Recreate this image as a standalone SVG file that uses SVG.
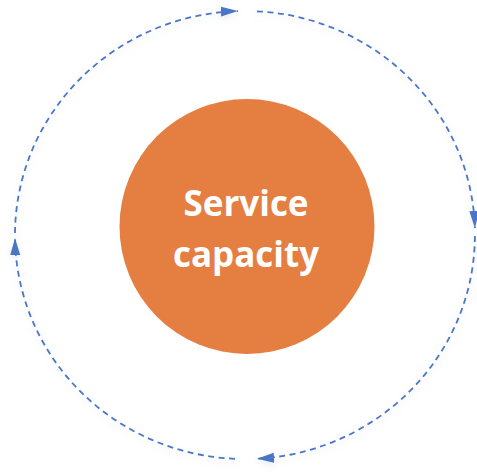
<svg xmlns="http://www.w3.org/2000/svg" width="477" height="473" viewBox="0 0 477 473">
  <defs>
    <style>
      .arc { fill: none; stroke: #4A76C6; stroke-width: 1.8; stroke-dasharray: 6 4.5; marker-end: url(#arrow); filter: url(#glow); }
      .label { font-family: "Open Sans", "Noto Sans", "Liberation Sans", sans-serif; font-weight: bold; font-size: 35px; fill: #FFFFFF; text-anchor: middle; }
    </style>
    <marker id="arrow" markerUnits="userSpaceOnUse" markerWidth="18" markerHeight="11" refX="17" refY="5" orient="auto">
      <path d="M0,0 L17,5 L0,10 z" fill="#4A76C6"/>
    </marker>
    <filter id="glow" x="-10%" y="-10%" width="120%" height="120%">
      <feGaussianBlur in="SourceAlpha" stdDeviation="3"/>
      <feOffset dx="0" dy="3" result="b"/>
      <feFlood flood-color="#7A8DB8" flood-opacity="0.18"/>
      <feComposite in2="b" operator="in"/>
      <feMerge>
        <feMergeNode/>
        <feMergeNode in="SourceGraphic"/>
      </feMerge>
    </filter>
  </defs>
  <g id="connectors">
    <path class="arc" d="M 15 233 A 230 224 0 0 1 238 11.1"/>
    <path class="arc" d="M 257 11.3 A 230 224 0 0 1 474.9 228"/>
    <path class="arc" d="M 474.9 236 A 230 224 0 0 1 257 458.7"/>
    <path class="arc" d="M 235 458.8 A 230 224 0 0 1 15 238"/>
  </g>
  <g id="service-capacity">
    <circle cx="247" cy="226.5" r="127.5" fill="#E57E41"/>
    <text class="label" x="246" y="216">Service</text>
    <text class="label" x="246" y="267">capacity</text>
  </g>
</svg>
